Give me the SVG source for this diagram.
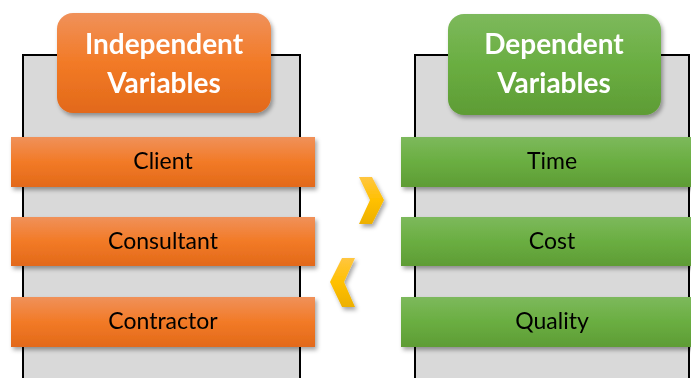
<svg xmlns="http://www.w3.org/2000/svg" width="691" height="378" viewBox="0 0 691 378">
<defs>
<linearGradient id="gO" x1="0" y1="0" x2="0" y2="1">
<stop offset="0" stop-color="#F0915A"/><stop offset="0.5" stop-color="#F27A26"/><stop offset="1" stop-color="#E2691A"/>
</linearGradient>
<linearGradient id="gG" x1="0" y1="0" x2="0" y2="1">
<stop offset="0" stop-color="#7DB95C"/><stop offset="0.5" stop-color="#6AAE41"/><stop offset="1" stop-color="#5E9C35"/>
</linearGradient>
<linearGradient id="gY" x1="0" y1="0" x2="0" y2="1">
<stop offset="0" stop-color="#FFC640"/><stop offset="0.5" stop-color="#FFC000"/><stop offset="1" stop-color="#EDB000"/>
</linearGradient>
<filter id="sh" x="-10%" y="-20%" width="120%" height="150%">
<feDropShadow dx="2" dy="3" stdDeviation="2" flood-color="#000" flood-opacity="0.35"/>
</filter>
<style>
.panel{fill:#D9D9D9;stroke:#000;stroke-width:2}
.hdr{font-family:Lato,"Liberation Sans",sans-serif;font-weight:bold;font-size:28px;fill:#fff;text-anchor:middle}
.lbl{font-family:Lato,"Liberation Sans",sans-serif;font-size:23px;fill:#000;text-anchor:middle}
</style>
</defs>
<g id="left-panel">
<rect class="panel" x="23" y="55" width="277" height="340"/>
</g>
<g id="right-panel">
<rect class="panel" x="415" y="55" width="274" height="340"/>
</g>
<g id="independent-variables" filter="url(#sh)">
<rect x="57" y="13" width="214" height="100" rx="16" fill="url(#gO)"/>
<text class="hdr" x="164" y="54">Independent</text>
<text class="hdr" x="164" y="93">Variables</text>
</g>
<g id="dependent-variables" filter="url(#sh)">
<rect x="448" y="14" width="213" height="101" rx="16" fill="url(#gG)"/>
<text class="hdr" x="554" y="54">Dependent</text>
<text class="hdr" x="554" y="93">Variables</text>
</g>
<g id="client" filter="url(#sh)"><rect x="11" y="137" width="304" height="50" fill="url(#gO)"/><text class="lbl" x="163" y="169">Client</text></g>
<g id="consultant" filter="url(#sh)"><rect x="11" y="217" width="304" height="49" fill="url(#gO)"/><text class="lbl" x="163" y="249">Consultant</text></g>
<g id="contractor" filter="url(#sh)"><rect x="11" y="297" width="304" height="50" fill="url(#gO)"/><text class="lbl" x="163" y="329">Contractor</text></g>
<g id="time" filter="url(#sh)"><rect x="401" y="137" width="310" height="50" fill="url(#gG)"/><text class="lbl" x="552" y="169">Time</text></g>
<g id="cost" filter="url(#sh)"><rect x="401" y="217" width="310" height="49" fill="url(#gG)"/><text class="lbl" x="552" y="249">Cost</text></g>
<g id="quality" filter="url(#sh)"><rect x="401" y="297" width="310" height="50" fill="url(#gG)"/><text class="lbl" x="552" y="329">Quality</text></g>
<g id="connectors" filter="url(#sh)">
<polygon points="359,177 372,177 384,200 372,224 359,224 370,200" fill="url(#gY)"/>
<polygon points="355,258 342,258 330,282 342,307 355,307 344,282" fill="url(#gY)"/>
</g>
</svg>
